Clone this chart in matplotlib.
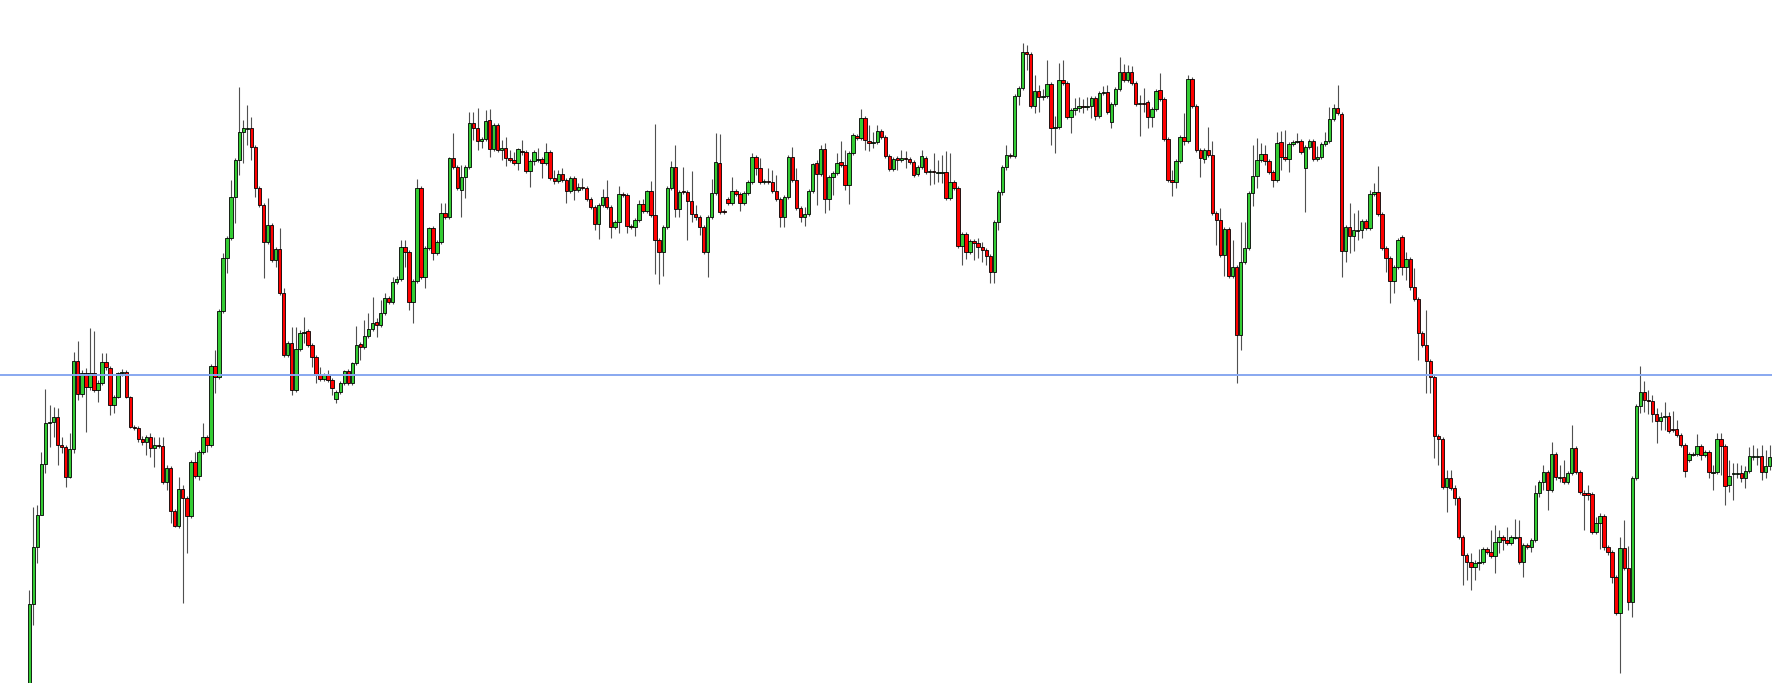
import matplotlib
matplotlib.use("Agg")
import matplotlib.pyplot as plt

opens = [
    700, 604, 547, 515, 464, 423, 422, 417, 445, 447,
    477, 449, 361, 394, 373, 387, 373, 390, 383, 362,
    368, 405, 397, 373, 372, 397, 427, 428, 439, 442,
    437, 448, 445, 446, 482, 468, 511, 526, 489, 498,
    516, 462, 476, 452, 437, 445, 366, 377, 311, 258,
    238, 197, 160, 132, 128, 128, 147, 188, 205, 242,
    225, 260, 249, 293, 355, 343, 390, 349, 333, 331,
    345, 357, 375, 379, 375, 380, 399, 392, 383, 371,
    383, 363, 344, 347, 336, 329, 322, 325, 313, 298,
    302, 282, 279, 247, 252, 302, 281, 188, 277, 248,
    228, 253, 242, 213, 217, 158, 167, 190, 177, 167,
    123, 128, 141, 139, 120, 149, 125, 150, 148, 158,
    160, 163, 151, 152, 171, 161, 159, 159, 163, 152,
    178, 181, 174, 180, 191, 178, 190, 187, 188, 199,
    207, 224, 205, 197, 207, 227, 222, 194, 195, 226,
    227, 220, 204, 211, 191, 215, 240, 252, 227, 188,
    167, 209, 191, 192, 201, 214, 217, 227, 252, 217,
    193, 163, 211, 199, 203, 191, 194, 203, 193, 182,
    157, 168, 182, 181, 182, 191, 199, 217, 197, 157,
    180, 208, 217, 214, 191, 163, 174, 149, 199, 177,
    173, 162, 165, 185, 153, 136, 138, 118, 141, 142,
    142, 131, 137, 156, 169, 158, 160, 158, 159, 162,
    174, 167, 158, 171, 171, 172, 172, 172, 198, 182,
    188, 246, 234, 252, 241, 243, 247, 250, 256, 272,
    222, 192, 167, 155, 156, 96, 88, 52, 54, 106,
    91, 97, 96, 84, 128, 127, 80, 83, 117, 110,
    108, 106, 107, 106, 98, 116, 93, 92, 122, 104,
    89, 72, 80, 72, 83, 103, 103, 102, 117, 109,
    90, 99, 139, 180, 182, 161, 137, 141, 79, 106,
    150, 159, 150, 155, 213, 220, 255, 229, 276, 267,
    335, 262, 248, 193, 176, 160, 154, 161, 172, 180,
    142, 157, 159, 144, 142, 141, 168, 147, 141, 159,
    157, 144, 141, 119, 108, 114, 251, 227, 236, 230,
    230, 221, 228, 194, 192, 214, 248, 258, 281, 267,
    237, 267, 259, 287, 299, 333, 345, 361, 377, 436,
    439, 487, 478, 488, 498, 537, 555, 562, 567, 563,
    562, 549, 552, 556, 542, 537, 540, 543, 537, 537,
    562, 545, 547, 540, 493, 482, 472, 490, 454, 477,
    477, 482, 473, 448, 472, 493, 493, 494, 532, 523,
    516, 547, 552, 577, 613, 548, 568, 602, 478, 406,
    392, 400, 401, 414, 421, 417, 416, 429, 429, 435,
    445, 460, 454, 454, 446, 455, 452, 472, 472, 439,
    446, 485, 474, 473, 473, 478, 471, 456, 456, 456,
    472, 466, 457,
]

closes = [
    604, 547, 515, 464, 423, 422, 417, 445, 447, 477,
    449, 361, 394, 373, 387, 373, 390, 383, 362, 367,
    405, 397, 373, 372, 397, 427, 428, 439, 442, 437,
    448, 445, 446, 482, 468, 511, 526, 489, 498, 516,
    462, 476, 452, 437, 445, 366, 377, 311, 258, 238,
    197, 160, 132, 128, 128, 147, 188, 205, 242, 225,
    260, 249, 293, 355, 343, 390, 349, 333, 332, 345,
    357, 375, 379, 375, 380, 388, 392, 383, 371, 383,
    363, 345, 347, 336, 329, 323, 325, 313, 298, 302,
    282, 279, 247, 252, 302, 281, 188, 277, 248, 228,
    253, 242, 213, 217, 158, 167, 188, 177, 167, 123,
    128, 141, 139, 121, 149, 125, 150, 148, 158, 160,
    163, 149, 152, 171, 161, 152, 159, 163, 152, 178,
    181, 174, 180, 191, 178, 190, 187, 188, 199, 207,
    224, 205, 197, 207, 227, 222, 194, 195, 226, 227,
    220, 204, 211, 191, 215, 240, 252, 227, 188, 167,
    209, 192, 192, 201, 214, 217, 227, 252, 217, 193,
    162, 212, 212, 203, 191, 194, 203, 193, 182, 157,
    168, 182, 181, 182, 191, 199, 217, 197, 157, 180,
    208, 217, 214, 191, 164, 174, 149, 199, 177, 173,
    163, 165, 185, 153, 135, 138, 118, 140, 143, 142,
    131, 137, 156, 169, 159, 160, 158, 159, 162, 175,
    167, 156, 172, 171, 172, 172, 172, 198, 182, 188,
    246, 234, 252, 241, 243, 247, 250, 256, 272, 222,
    192, 167, 155, 156, 96, 88, 52, 54, 106, 91,
    97, 96, 84, 128, 127, 80, 83, 117, 110, 108,
    106, 107, 106, 98, 116, 93, 92, 112, 104, 89,
    72, 80, 72, 83, 104, 103, 104, 117, 109, 91,
    99, 139, 180, 182, 161, 137, 141, 79, 106, 150,
    158, 150, 155, 213, 220, 255, 229, 276, 267, 335,
    262, 248, 193, 176, 160, 154, 161, 172, 180, 143,
    157, 159, 144, 142, 141, 152, 147, 141, 159, 157,
    144, 141, 119, 108, 113, 251, 227, 236, 230, 230,
    221, 228, 194, 192, 214, 248, 258, 281, 267, 240,
    267, 259, 287, 299, 333, 345, 361, 377, 436, 439,
    487, 478, 488, 498, 537, 555, 562, 567, 563, 562,
    549, 552, 556, 542, 537, 540, 543, 537, 537, 562,
    545, 547, 540, 493, 482, 472, 490, 454, 477, 477,
    482, 473, 448, 472, 492, 495, 495, 532, 523, 516,
    547, 552, 577, 613, 548, 568, 602, 478, 406, 392,
    400, 401, 414, 421, 417, 416, 431, 430, 435, 445,
    471, 454, 454, 446, 455, 452, 472, 472, 439, 446,
    486, 476, 473, 473, 478, 471, 456, 456, 456, 472,
    466, 457, 428,
]

highs = [
    590, 507, 505, 452, 389, 405, 407, 408, 437, 445,
    433, 352, 341, 370, 368, 328, 331, 380, 353, 353,
    366, 395, 372, 369, 370, 396, 425, 426, 436, 435,
    433, 437, 437, 437, 465, 466, 509, 477, 485, 496,
    460, 452, 450, 423, 435, 364, 350, 309, 253, 236,
    180, 158, 87, 120, 105, 117, 145, 186, 203, 198,
    223, 247, 228, 288, 341, 327, 327, 330, 317, 329,
    343, 355, 367, 373, 370, 378, 390, 381, 370, 369,
    362, 326, 342, 320, 313, 297, 318, 300, 293, 296,
    277, 276, 240, 240, 250, 279, 179, 186, 246, 227,
    226, 240, 203, 203, 157, 133, 165, 165, 165, 112,
    112, 108, 137, 110, 109, 123, 123, 140, 137, 150,
    152, 148, 140, 150, 159, 150, 148, 157, 143, 150,
    170, 170, 168, 178, 176, 176, 183, 178, 186, 197,
    205, 203, 189, 180, 205, 220, 186, 192, 193, 224,
    218, 200, 199, 190, 181, 124, 238, 225, 186, 161,
    145, 190, 167, 190, 171, 205, 215, 225, 215, 179,
    133, 134, 209, 197, 177, 189, 192, 191, 180, 153,
    155, 158, 179, 168, 170, 175, 197, 195, 155, 147,
    168, 206, 207, 189, 163, 160, 145, 143, 175, 171,
    153, 141, 150, 151, 133, 134, 109, 116, 125, 132,
    125, 129, 135, 154, 157, 156, 150, 151, 157, 160,
    165, 150, 156, 169, 153, 160, 155, 151, 153, 180,
    186, 232, 232, 239, 239, 238, 242, 248, 254, 220,
    190, 165, 145, 153, 94, 86, 43, 45, 52, 75,
    85, 89, 60, 82, 116, 63, 60, 81, 108, 98,
    97, 99, 97, 96, 96, 91, 86, 85, 102, 87,
    57, 64, 65, 66, 81, 95, 88, 100, 107, 89,
    73, 97, 137, 170, 159, 135, 113, 75, 77, 104,
    148, 148, 127, 141, 211, 208, 227, 227, 240, 265,
    222, 222, 191, 145, 138, 143, 145, 159, 170, 132,
    131, 130, 142, 140, 133, 139, 145, 139, 139, 146,
    142, 132, 107, 104, 85, 112, 225, 203, 213, 210,
    219, 219, 190, 183, 166, 212, 246, 256, 265, 238,
    235, 252, 257, 268, 297, 331, 310, 359, 375, 434,
    437, 470, 470, 485, 496, 535, 553, 553, 560, 549,
    547, 547, 530, 525, 530, 535, 527, 535, 519, 520,
    543, 543, 538, 485, 480, 465, 470, 442, 452, 465,
    460, 471, 425, 446, 470, 490, 485, 492, 517, 513,
    514, 545, 550, 575, 537, 520, 546, 476, 404, 366,
    381, 390, 395, 408, 412, 402, 412, 411, 420, 433,
    443, 452, 452, 434, 444, 450, 450, 465, 433, 433,
    444, 460, 463, 463, 465, 466, 447, 445, 448, 445,
    450, 445, 420,
]

lows = [
    705, 625, 563, 473, 473, 447, 437, 465, 453, 487,
    478, 453, 400, 397, 432, 390, 392, 402, 385, 370,
    415, 413, 398, 376, 398, 428, 430, 442, 445, 455,
    457, 467, 448, 484, 490, 523, 527, 528, 603, 553,
    518, 478, 480, 454, 452, 447, 393, 379, 313, 273,
    240, 223, 175, 163, 145, 160, 197, 207, 278, 244,
    262, 267, 295, 357, 357, 395, 392, 351, 343, 347,
    367, 383, 381, 381, 382, 395, 403, 394, 385, 385,
    385, 365, 360, 349, 338, 331, 337, 327, 315, 304,
    304, 284, 281, 267, 310, 323, 283, 279, 288, 250,
    260, 255, 244, 219, 219, 169, 190, 217, 198, 169,
    140, 150, 148, 141, 157, 151, 152, 160, 166, 162,
    165, 170, 155, 173, 187, 165, 162, 178, 165, 180,
    184, 183, 182, 203, 193, 200, 192, 190, 201, 209,
    230, 239, 207, 209, 238, 229, 233, 197, 233, 229,
    236, 222, 213, 213, 217, 274, 284, 276, 229, 190,
    217, 217, 194, 240, 222, 220, 235, 254, 277, 219,
    195, 214, 214, 205, 205, 196, 211, 205, 195, 184,
    175, 184, 184, 184, 193, 201, 227, 227, 199, 182,
    210, 222, 226, 216, 193, 205, 176, 213, 210, 195,
    175, 167, 190, 204, 155, 140, 140, 150, 151, 148,
    144, 139, 158, 171, 171, 170, 162, 168, 164, 177,
    176, 169, 174, 185, 184, 182, 183, 200, 200, 190,
    248, 265, 259, 254, 260, 258, 262, 265, 283, 283,
    230, 195, 170, 158, 158, 105, 90, 70, 108, 113,
    112, 100, 98, 145, 153, 129, 85, 119, 133, 115,
    112, 113, 110, 118, 120, 118, 95, 114, 128, 106,
    91, 82, 82, 85, 106, 136, 112, 128, 127, 111,
    101, 141, 182, 196, 188, 163, 145, 143, 108, 152,
    177, 163, 157, 215, 245, 257, 276, 278, 278, 383,
    350, 264, 250, 206, 188, 162, 165, 174, 187, 182,
    170, 161, 172, 146, 143, 154, 212, 149, 161, 161,
    159, 146, 143, 121, 115, 277, 262, 253, 251, 240,
    238, 230, 230, 196, 216, 250, 272, 303, 293, 269,
    275, 280, 290, 301, 360, 347, 393, 393, 458, 465,
    489, 512, 490, 505, 539, 585, 580, 590, 580, 570,
    564, 554, 558, 573, 553, 550, 545, 545, 539, 564,
    577, 549, 552, 542, 497, 490, 510, 492, 480, 482,
    484, 484, 475, 474, 494, 530, 500, 534, 534, 549,
    550, 555, 583, 615, 673, 570, 610, 617, 480, 413,
    412, 414, 422, 443, 430, 430, 433, 432, 437, 447,
    477, 462, 456, 456, 460, 457, 478, 490, 474, 475,
    505, 492, 500, 478, 482, 488, 473, 460, 465, 480,
    478, 470, 460,
]

ref_level = 375  # horizontal reference line

assert len(opens) == len(closes) == len(highs) == len(lows), \
    (len(opens), len(closes), len(highs), len(lows))

up_color = '#33cc33'
down_color = '#ff0000'

fig = plt.figure(figsize=(17.72, 6.83), dpi=100)
ax = fig.add_axes([0, 0, 1, 1])

xs = list(range(len(closes)))

# wicks
ax.vlines(xs, highs, lows, color='#505050', linewidth=0.8, zorder=1)

# bodies (smaller level = higher on chart, so close < open is an up candle)
bottoms = [min(o, c) for o, c in zip(opens, closes)]
heights = [max(abs(o - c), 0.6) for o, c in zip(opens, closes)]
colors = [up_color if c <= o else down_color for o, c in zip(opens, closes)]
ax.bar(xs, heights, bottom=bottoms, width=0.85, color=colors,
       edgecolor='black', linewidth=0.6, zorder=2)

ax.axhline(ref_level, color='#88a8f0', linewidth=1.4, zorder=3)

ax.set_xlim(-7.26, 431.6)
ax.set_ylim(683, 0)
ax.axis('off')

fig.savefig('out.png', dpi=100, facecolor='white')
